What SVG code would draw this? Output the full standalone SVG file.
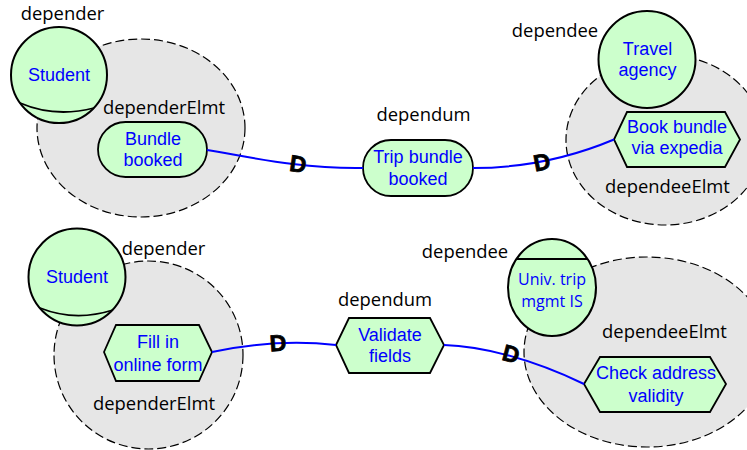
<svg xmlns="http://www.w3.org/2000/svg" width="747" height="450" viewBox="0 0 747 450">
<style>
.bg{fill:#fff}
.area{fill:#e6e6e6;stroke:#000;stroke-width:1.2;stroke-dasharray:9 4}
.actor{fill:#ccffcc;stroke:#000;stroke-width:2}
.el{fill:#ccffcc;stroke:#000;stroke-width:1.8;stroke-linejoin:miter}
.ln{fill:none;stroke:#000;stroke-width:1.8}
.lbl{font-family:"Open Sans","Liberation Sans",sans-serif;font-size:18.4px;fill:#000;text-anchor:middle}
.nm{font-family:"Liberation Sans",Arial,sans-serif;font-size:18px;fill:#0000ff;text-anchor:middle}
.nm2{font-family:"Open Sans","Liberation Sans",sans-serif;font-size:16px;fill:#0000ff;text-anchor:middle}
.link{fill:none;stroke:#0000ff;stroke-width:2}
.d{font-family:"Liberation Sans",Arial,sans-serif;font-weight:bold;font-size:23px;fill:#000;stroke:#000;stroke-width:0.8;text-anchor:middle}
</style>
<rect class="bg" x="0" y="0" width="747" height="450"/>

<!-- top row -->
<g id="depender-area-1">
  <ellipse class="area" cx="141" cy="128" rx="104" ry="89"/>
  <text class="lbl" x="164" y="114">dependerElmt</text>
</g>
<g id="depender-1">
  <circle class="actor" cx="59" cy="75" r="48"/>
  <path class="ln" d="M20,103 Q55,118 94,108"/>
  <text class="lbl" x="62.5" y="20">depender</text>
  <text class="nm" x="59" y="81">Student</text>
</g>
<g id="dependerElmt-1">
  <rect class="el" x="98" y="122" width="109" height="55" rx="27.5" ry="27.5"/>
  <text class="nm" x="153" y="145">Bundle</text>
  <text class="nm" x="153" y="166">booked</text>
</g>
<g id="dependee-area-1">
  <ellipse class="area" cx="665" cy="140" rx="99" ry="85"/>
  <text class="lbl" x="667.5" y="193">dependeeElmt</text>
</g>
<g id="dependee-1">
  <circle class="actor" cx="647" cy="59.5" r="48.5"/>
  <text class="lbl" x="555" y="37">dependee</text>
  <text class="nm" x="647.5" y="55">Travel</text>
  <text class="nm" x="647.5" y="76">agency</text>
</g>
<g id="dependeeElmt-1">
  <polygon class="el" points="614,139.5 627,112 725,112 740,139.5 725,167 627,167"/>
  <text class="nm" x="677" y="133">Book bundle</text>
  <text class="nm" x="677" y="154">via expedia</text>
</g>
<g id="dependum-1">
  <rect class="el" x="363" y="140" width="110" height="56" rx="28" ry="28"/>
  <text class="lbl" x="423.5" y="121">dependum</text>
  <text class="nm" x="418" y="163">Trip bundle</text>
  <text class="nm" x="418" y="185">booked</text>
</g>

<!-- bottom row -->
<g id="depender-area-2">
  <ellipse class="area" cx="148.5" cy="355" rx="94.5" ry="94"/>
  <text class="lbl" x="154" y="410">dependerElmt</text>
</g>
<g id="depender-2">
  <circle class="actor" cx="77" cy="277" r="48.5"/>
  <path class="ln" d="M40,308 Q75,322 113,310"/>
  <text class="lbl" x="163.5" y="255">depender</text>
  <text class="nm" x="77" y="283">Student</text>
</g>
<g id="dependerElmt-2">
  <polygon class="el" points="104,352 116,325 199,325 212,352 199,381 116,381"/>
  <text class="nm" x="158" y="348">Fill in</text>
  <text class="nm" x="158" y="371">online form</text>
</g>
<g id="dependee-area-2">
  <ellipse class="area" cx="647" cy="352" rx="123" ry="95"/>
  <text class="lbl" x="664.5" y="338">dependeeElmt</text>
</g>
<g id="dependee-2">
  <ellipse class="actor" cx="552" cy="287.5" rx="44" ry="48.5"/>
  <line class="ln" x1="516.4" y1="259" x2="587.6" y2="259"/>
  <text class="lbl" x="465" y="258">dependee</text>
  <text class="nm2" x="552" y="285">Univ. trip</text>
  <text class="nm2" x="552" y="307">mgmt IS</text>
</g>
<g id="dependeeElmt-2">
  <polygon class="el" points="584,384 600,357 710,357 726,384 710,412 600,412"/>
  <text class="nm" x="656" y="379">Check address</text>
  <text class="nm" x="656" y="402">validity</text>
</g>
<g id="dependum-2">
  <polygon class="el" points="336,345 349,318 430,318 444,345 430,373 349,373"/>
  <text class="lbl" x="385" y="306">dependum</text>
  <text class="nm" x="390" y="341">Validate</text>
  <text class="nm" x="390" y="362">fields</text>
</g>

<g id="connectors">
  <path class="link" d="M207,150 C250,157 300,169 363,168"/>
  <path class="link" d="M473,168 C520,168 570,158 614,139.5"/>
  <path class="link" d="M212,352 C245,345 290,340 336,345"/>
  <path class="link" d="M444,345 C480,346 530,358 584,384"/>
  <text class="d" x="298" y="172" transform="rotate(8 298 164)">D</text>
  <text class="d" x="542" y="170" transform="rotate(-11 542 162)">D</text>
  <text class="d" x="278" y="351" transform="rotate(-4 278 343)">D</text>
  <text class="d" x="511" y="362" transform="rotate(15 511 354)">D</text>
</g>
</svg>
